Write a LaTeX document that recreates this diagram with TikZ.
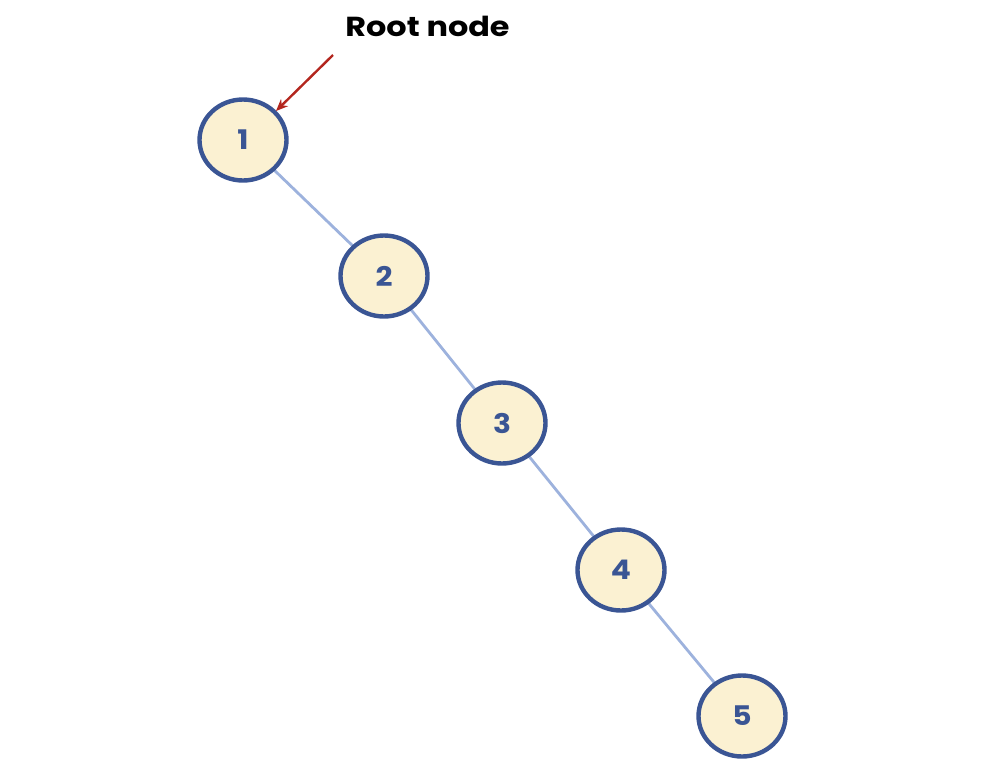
\documentclass[tikz,border=0pt]{standalone}
\usepackage{fontspec}
\setmainfont{Poppins}
\usetikzlibrary{shapes.geometric,arrows.meta,backgrounds}
\definecolor{nodeblue}{HTML}{3A5594}
\definecolor{nodefill}{HTML}{FBF1D2}
\definecolor{edgeblue}{HTML}{9DB2DD}
\definecolor{arrowred}{HTML}{B3261E}
\tikzset{
  treenode/.style={ellipse, draw=nodeblue, fill=nodefill, line width=4.4pt,
    minimum width=87pt, minimum height=81pt, inner sep=0pt,
    text=nodeblue, font=\fontsize{27}{29}\selectfont\bfseries},
  treeedge/.style={draw=edgeblue, line width=2.8pt},
  pointer/.style={draw=arrowred, line width=2.4pt, -{Stealth[length=12pt,width=10pt]}}
}
\begin{document}
\begin{tikzpicture}[x=1pt,y=-1pt]
\useasboundingbox (0,0) rectangle (994,764);
\node[treenode] (n1) at (243,140) {\scalebox{1.1}[1]{1}};
\node[treenode] (n2) at (384,276) {\scalebox{1.1}[1]{2}};
\node[treenode] (n3) at (502,423) {\scalebox{1.1}[1]{3}};
\node[treenode] (n4) at (621,570) {\scalebox{1.1}[1]{4}};
\node[treenode] (n5) at (742,716) {\scalebox{1.1}[1]{5}};
\begin{pgfonlayer}{background}
\draw[treeedge] (n1.center) -- (n2.center);
\draw[treeedge] (n2.center) -- (n3.center);
\draw[treeedge] (n3.center) -- (n4.center);
\draw[treeedge] (n4.center) -- (n5.center);
\end{pgfonlayer}
\node[font=\fontsize{27.5}{29}\selectfont\bfseries, inner sep=0pt, anchor=base] (root) at (427.5,36) {\scalebox{1.16}[1]{Root node}};
\coordinate (tail) at (333,55);
\coordinate (head) at (276,111);
\draw[pointer] (tail) -- (head);
\end{tikzpicture}
\end{document}
